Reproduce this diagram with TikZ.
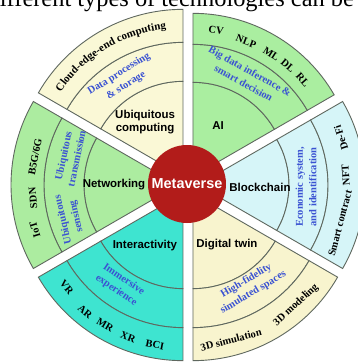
\documentclass[tikz,border=0pt]{standalone}
\usepackage{fontspec}
\setmainfont{Liberation Serif}
\setsansfont{Liberation Sans}
\usetikzlibrary{decorations.text}

\definecolor{ubiqfill}{RGB}{250,248,214}
\definecolor{aifill}{RGB}{170,238,160}
\definecolor{chainfill}{RGB}{214,245,248}
\definecolor{twinfill}{RGB}{248,244,206}
\definecolor{interfill}{RGB}{62,228,208}
\definecolor{netfill}{RGB}{172,236,160}
\definecolor{metared}{RGB}{178,28,26}
\definecolor{midblue}{RGB}{58,82,210}
\definecolor{edgegray}{RGB}{95,104,95}

\newcommand\termfont{\fontsize{10.5}{12}\selectfont\bfseries}
\newcommand\midfont{\fontsize{10.5}{13.5}\selectfont\bfseries}

% start angle, fill, inner, middle, outer radius
\newcommand\ringsector[5]{%
\draw[sector, fill=#2] (0,0) -- (#1:#3) arc[start angle=#1, delta angle=60, radius=#3] -- cycle;
\draw[sector, fill=#2] (#1:#3) -- (#1:#4) arc[start angle=#1, delta angle=60, radius=#4] -- (#1+60:#3) arc[start angle=#1+60, delta angle=-60, radius=#3] -- cycle;
\draw[sector, fill=#2] (#1:#4) -- (#1:#5) arc[start angle=#1, delta angle=60, radius=#5] -- (#1+60:#4) arc[start angle=#1+60, delta angle=-60, radius=#4] -- cycle;
}

\tikzset{
sector/.style={draw=edgegray, line width=0.9bp},
lab/.style={font=\fontsize{11.5}{13.5}\selectfont\sffamily\bfseries, align=center, inner sep=0pt},
mid/.style={font=\midfont, text=midblue, align=center, inner sep=0pt},
term/.style={font=\termfont, inner sep=0pt},
arctext/.style={decorate, decoration={text along path, text align=center, text={#1}}}
}

\begin{document}
\begin{tikzpicture}[x=1bp, y=1bp]
\useasboundingbox (-188,-178) rectangle (170,185);
\clip (-188,-178) rectangle (170,185);
\fill[white] (-188,-178) rectangle (170,185);
\node[anchor=base west, font=\fontsize{24.5}{27}\selectfont, inner sep=0pt] (caption) at (-200.5,179) {different types of technologies can be};

\begin{scope}[shift={(120:10)}]
\ringsector{90}{ubiqfill}{95}{134}{167}
\node[lab] (ubiq) at (125:66) {Ubiquitous\\computing};
\path[arctext={|\fontsize{11}{12}\selectfont\bfseries|Cloud-edge-end computing}] (152:148.5) arc[start angle=152, end angle=90, radius=148.5];
\node[mid, rotate=32] (dps) at (122:114) {Data processing\\\& storage};
\end{scope}

\begin{scope}[shift={(60:10)}]
\ringsector{30}{aifill}{94}{132}{163}
\node[lab] (ai) at (64:57) {AI};
\foreach \ang/\rad/\txt [count=\i] in {81/148/CV, 68.5/145/NLP, 57.3/145/ML, 49.5/146/DL, 41.2/146/RL}
  \node[term, rotate=\ang-90] (ait\i) at (\ang:\rad) {\txt};
\node[mid, rotate=-29] (bigd) at (61.5:113) {Big data inference \&\\smart decision};
\end{scope}

\begin{scope}[shift={(0:10)}]
\ringsector{-30}{chainfill}{91}{130}{167}
\node[lab] (chain) at (-2:62) {Blockchain};
\node[mid, rotate=90] (econ) at (-1:108) {Economic system,\\and identification};
\foreach \ang/\rad/\txt [count=\i] in {18.2/150.5/De-Fi, 3.9/148/NFT, -15/147/Smart contract}
  \node[term, rotate=\ang+90] (bct\i) at (\ang:\rad) {\txt};
\end{scope}

\begin{scope}[shift={(-60:10)}]
\ringsector{-90}{twinfill}{95}{134}{167}
\node[lab] (twin) at (-56.5:61.5) {Digital twin};
\node[mid, rotate=31] (hifi) at (-58.6:109) {High-fidelity\\simulated spaces};
\foreach \ang/\rad/\txt [count=\i] in {-47.2/151.7/3D modeling, -75.4/151/3D simulation}
  \node[term, rotate=\ang+90] (dtt\i) at (\ang:\rad) {\txt};
\end{scope}

\begin{scope}[shift={(240:10)}]
\ringsector{210}{interfill}{95}{134}{167}
\node[lab] (inter) at (233.5:64) {Interactivity};
\node[mid, rotate=-34] (immer) at (235.4:111) {Immersive\\experience};
\foreach \ang/\rad/\txt [count=\i] in {219/149.5/VR, 230.4/153.6/AR, 239.3/152.7/MR, 249/153.5/XR, 259.5/153.9/BCI}
  \node[term, rotate=\ang+90] (itt\i) at (\ang:\rad) {\txt};
\end{scope}

\begin{scope}[shift={(180:10)}]
\ringsector{150}{netfill}{94}{134}{167}
\node[lab] (net) at (180:64) {Networking};
\node[mid, rotate=78] (trans) at (165.5:111.6) {Ubiquitous\\transmission};
\node[mid, rotate=103] (sens) at (197:113) {Ubiquitous\\sensing};
\foreach \ang/\rad/\txt [count=\i] in {168.9/145.7/{B5G/6G}, 185.1/145.6/SDN, 197.5/150/IoT}
  \node[term, rotate=\ang-90] (ntt\i) at (\ang:\rad) {\txt};
\end{scope}

\node[circle, fill=metared, minimum size=78bp, inner sep=0pt, text=white, font=\fontsize{14.5}{16}\selectfont\sffamily\bfseries] (meta) at (-1,1) {Metaverse};
\end{tikzpicture}
\end{document}
